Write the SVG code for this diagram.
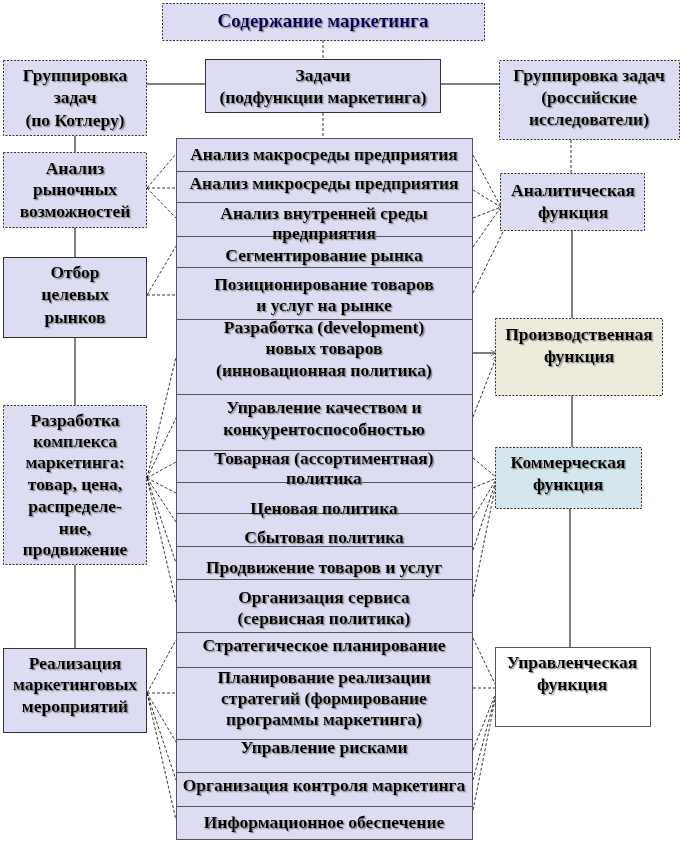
<svg xmlns="http://www.w3.org/2000/svg" width="683" height="844" viewBox="0 0 683 844">
<defs>
<filter id="sh" x="-5%" y="-20%" width="110%" height="140%">
<feDropShadow dx="1.3" dy="1.3" stdDeviation="0.3" flood-color="#808080" flood-opacity="0.9"/>
</filter>
<marker id="ar" viewBox="0 0 8 8" refX="7" refY="4" markerWidth="7" markerHeight="7" orient="auto" markerUnits="userSpaceOnUse">
<path d="M0,1 L7,4 L0,7" fill="none" stroke="#555" stroke-width="0.8"/>
</marker>
</defs>
<style>
text{font-family:"Liberation Serif","Times New Roman",serif;font-weight:bold;font-size:17.5px;text-anchor:middle;fill:#000;filter:url(#sh)}
.lav{fill:#dcdcf2}
.dsh{stroke:#333;stroke-width:1;stroke-dasharray:2,1.5}
.sol{stroke:#333;stroke-width:1}
.row{fill:#dcdcf2;stroke:#555;stroke-width:1}
.c{fill:none;stroke:#000;stroke-width:0.8;stroke-dasharray:3,2}
.cs{fill:none;stroke:#000;stroke-width:1}
.ttl{fill:#000060;font-size:19px}
</style>

<g id="connectors">
<line class="c" x1="323" y1="40" x2="323" y2="59"/>
<line class="c" x1="323" y1="113" x2="323" y2="138"/>
<line class="cs" x1="146" y1="84" x2="205" y2="84"/>
<line class="cs" x1="441" y1="84" x2="499" y2="84"/>
<line class="cs" x1="75" y1="136" x2="75" y2="152"/>
<line class="cs" x1="75" y1="227" x2="75" y2="257"/>
<line class="cs" x1="75" y1="338" x2="75" y2="405"/>
<line class="cs" x1="75" y1="565" x2="75" y2="648"/>
<line class="c" x1="571" y1="140" x2="571" y2="173"/>
<line class="cs" x1="572" y1="230" x2="572" y2="318"/>
<line class="cs" x1="572" y1="395" x2="572" y2="447"/>
<line class="cs" x1="570" y1="508" x2="570" y2="647"/>
<!-- left connectors -->
<path class="c" d="M147,188 L176,154 M147,188 L176,188 M147,188 L176,218"/>
<path class="c" d="M147,295 L176,246 M147,295 L176,295"/>
<path class="c" d="M147,478 L176,357 M147,478 L176,418 M147,478 L176,462 M147,478 L176,493 M147,478 L176,522 M147,478 L176,563 M147,478 L176,602"/>
<path class="c" d="M147,693 L176,640 M147,693 L176,693 M147,693 L176,742 M147,693 L176,780 M147,693 L176,820"/>
<!-- right connectors -->
<path class="c" d="M473,155 L501,207 M473,190 L501,207 M473,218 L501,207 M473,247 L501,207 M473,293 L503,232"/>
<line class="cs" x1="473" y1="353" x2="497" y2="353" marker-end="url(#ar)"/>
<line class="c" x1="473" y1="417" x2="497" y2="355" marker-end="url(#ar)"/>
<path class="c" d="M473,458 L497,478 M473,488 L497,478 M473,518 L497,478 M473,550 L497,478 M473,597 L497,478"/>
<path class="c" d="M473,638 L497,688 M473,688 L497,688 M473,750 L497,690 M473,780 L497,690 M473,810 L497,690"/>
</g>

<g id="title">
<rect x="162.5" y="3.5" width="322" height="37" class="lav dsh"/>
<text x="323" y="27" class="ttl">Содержание маркетинга</text>
</g>

<g id="zadachi">
<rect x="205.5" y="59.5" width="235" height="53" class="lav sol"/>
<text x="323" y="81">Задачи</text>
<text x="323" y="103">(подфункции маркетинга)</text>
</g>

<g id="group-kotler">
<rect x="3.5" y="60.5" width="143" height="75" class="lav dsh"/>
<text x="75" y="81">Группировка</text>
<text x="75" y="103">задач</text>
<text x="75" y="126">(по Котлеру)</text>
</g>

<g id="group-russian">
<rect x="499.5" y="60.5" width="180" height="79" class="lav dsh"/>
<text x="589" y="81">Группировка задач</text>
<text x="589" y="103">(российские</text>
<text x="589" y="125">исследователи)</text>
</g>

<g id="analysis">
<rect x="3.5" y="152.5" width="143" height="75" class="lav dsh"/>
<text x="75" y="174">Анализ</text>
<text x="75" y="195">рыночных</text>
<text x="75" y="217">возможностей</text>
</g>

<g id="targeting">
<rect x="3.5" y="257.5" width="143" height="80" class="lav sol"/>
<text x="75" y="278">Отбор</text>
<text x="75" y="300">целевых</text>
<text x="75" y="323">рынков</text>
</g>

<g id="mix">
<rect x="3.5" y="405.5" width="143" height="159" class="lav dsh"/>
<text x="75" y="426">Разработка</text>
<text x="75" y="447">комплекса</text>
<text x="75" y="468">маркетинга:</text>
<text x="75" y="490">товар, цена,</text>
<text x="75" y="512">распределе-</text>
<text x="75" y="534">ние,</text>
<text x="75" y="555">продвижение</text>
</g>

<g id="implementation">
<rect x="3.5" y="648.5" width="143" height="84" class="lav sol"/>
<text x="75" y="669">Реализация</text>
<text x="75" y="690">маркетинговых</text>
<text x="75" y="712">мероприятий</text>
</g>

<g id="list">
<rect x="176.5" y="138.5" width="296" height="33" class="row"/>
<rect x="176.5" y="171.5" width="296" height="31" class="row"/>
<rect x="176.5" y="202.5" width="296" height="34" class="row"/>
<rect x="176.5" y="236.5" width="296" height="31" class="row"/>
<rect x="176.5" y="267.5" width="296" height="52" class="row"/>
<rect x="176.5" y="319.5" width="296" height="75" class="row"/>
<rect x="176.5" y="394.5" width="296" height="56" class="row"/>
<rect x="176.5" y="450.5" width="296" height="32" class="row"/>
<rect x="176.5" y="482.5" width="296" height="31" class="row"/>
<rect x="176.5" y="513.5" width="296" height="33" class="row"/>
<rect x="176.5" y="546.5" width="296" height="33" class="row"/>
<rect x="176.5" y="579.5" width="296" height="53" class="row"/>
<rect x="176.5" y="632.5" width="296" height="35" class="row"/>
<rect x="176.5" y="667.5" width="296" height="72" class="row"/>
<rect x="176.5" y="739.5" width="296" height="33" class="row"/>
<rect x="176.5" y="772.5" width="296" height="34" class="row"/>
<rect x="176.5" y="806.5" width="296" height="33" class="row"/>
<text x="324" y="160">Анализ макросреды предприятия</text>
<text x="324" y="189">Анализ микросреды предприятия</text>
<text x="324" y="219">Анализ внутренней среды</text>
<text x="324" y="239">предприятия</text>
<text x="324" y="261">Сегментирование рынка</text>
<text x="324" y="290">Позиционирование товаров</text>
<text x="324" y="311">и услуг на рынке</text>
<text x="324" y="333">Разработка (development)</text>
<text x="324" y="354">новых товаров</text>
<text x="324" y="376">(инновационная политика)</text>
<text x="324" y="413">Управление качеством и</text>
<text x="324" y="435">конкурентоспособностью</text>
<text x="324" y="464">Товарная (ассортиментная)</text>
<text x="324" y="484">политика</text>
<text x="324" y="514">Ценовая политика</text>
<text x="324" y="543">Сбытовая политика</text>
<text x="324" y="573">Продвижение товаров и услуг</text>
<text x="324" y="603">Организация сервиса</text>
<text x="324" y="624">(сервисная политика)</text>
<text x="324" y="651">Стратегическое планирование</text>
<text x="324" y="683">Планирование реализации</text>
<text x="324" y="704">стратегий (формирование</text>
<text x="324" y="725">программы маркетинга)</text>
<text x="324" y="753">Управление рисками</text>
<text x="324" y="791">Организация контроля маркетинга</text>
<text x="324" y="828">Информационное обеспечение</text>
</g>

<g id="analytic-fn">
<rect x="500.5" y="173.5" width="144" height="57" class="lav dsh"/>
<text x="573" y="196">Аналитическая</text>
<text x="573" y="218">функция</text>
</g>

<g id="production-fn">
<rect x="495.5" y="318.5" width="167" height="77" fill="#ecebdc" class="dsh"/>
<text x="579" y="340">Производственная</text>
<text x="579" y="362">функция</text>
</g>

<g id="commercial-fn">
<rect x="495.5" y="447.5" width="146" height="61" fill="#d4e6ee" class="dsh"/>
<text x="568" y="468">Коммерческая</text>
<text x="568" y="490">функция</text>
</g>

<g id="management-fn">
<rect x="495.5" y="647.5" width="155" height="79" fill="#ffffff" stroke="#555" stroke-width="1"/>
<text x="572" y="668">Управленческая</text>
<text x="572" y="690">функция</text>
</g>
</svg>
